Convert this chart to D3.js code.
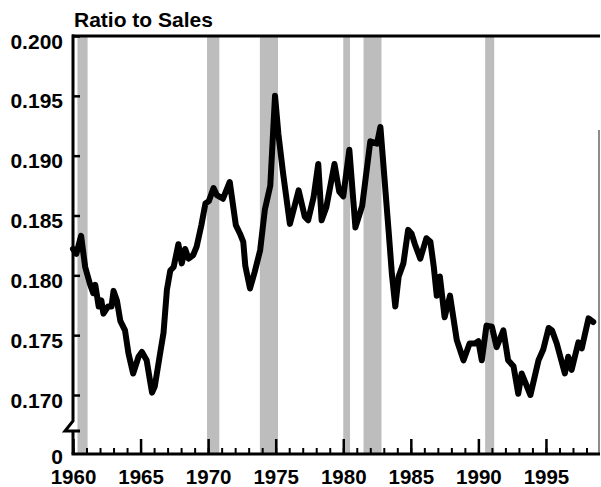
<!DOCTYPE html>
<html>
<head>
<meta charset="utf-8">
<script src="https://cdn.jsdelivr.net/npm/d3@7"></script>
<style>
  body { margin: 0; background: #fff; }
  svg text { font-family: "Liberation Sans", Arial, Helvetica, sans-serif; font-weight: bold; fill: #000; }
</style>
</head>
<body>
<svg id="graphic-svg" width="601" height="487"></svg>
<script>
// recession periods (start, end)
var recessions = [[1960.33, 1961.08], [1969.92, 1970.83], [1973.83, 1975.17],
                  [1980.0, 1980.5], [1981.5, 1982.83], [1990.5, 1991.17]];

// ratio series
var years = [1960.0, 1960.25, 1960.6, 1960.9, 1961.25, 1961.5, 1961.65, 1961.9, 1962.1, 1962.25,
  1962.6, 1962.85, 1963.0, 1963.25, 1963.5, 1963.85, 1964.1, 1964.45, 1964.85, 1965.1,
  1965.45, 1965.7, 1965.85, 1966.05, 1966.45, 1966.7, 1966.95, 1967.2, 1967.45, 1967.8,
  1968.05, 1968.3, 1968.55, 1968.9, 1969.15, 1969.5, 1969.8, 1970.05, 1970.4, 1970.65,
  1971.1, 1971.6, 1972.05, 1972.35, 1972.6, 1972.75, 1973.1, 1973.45, 1973.85, 1974.2,
  1974.6, 1974.95, 1975.2, 1975.55, 1976.05, 1976.4, 1976.7, 1977.15, 1977.4, 1977.8,
  1978.15, 1978.4, 1978.75, 1979.35, 1979.7, 1980.0, 1980.45, 1980.9, 1981.4, 1982.0,
  1982.5, 1982.75, 1983.35, 1983.6, 1983.85, 1984.1, 1984.45, 1984.8, 1985.05, 1985.3,
  1985.7, 1986.15, 1986.45, 1986.7, 1986.92, 1987.15, 1987.5, 1987.9, 1988.4, 1988.9,
  1989.35, 1989.75, 1990.0, 1990.25, 1990.6, 1991.0, 1991.35, 1991.85, 1992.2, 1992.6,
  1992.95, 1993.2, 1993.85, 1994.45, 1994.8, 1995.2, 1995.45, 1995.8, 1996.4, 1996.65,
  1996.9, 1997.4, 1997.65, 1998.15, 1998.5];
var ratio = [0.1822, 0.1818, 0.1833, 0.1807, 0.1793, 0.1785, 0.1792, 0.1774, 0.1779, 0.1768,
  0.1774, 0.1774, 0.1787, 0.1779, 0.1762, 0.1754, 0.1735, 0.1718, 0.1732, 0.1736,
  0.1729, 0.1712, 0.1702, 0.1707, 0.1735, 0.1752, 0.1788, 0.1804, 0.1807, 0.1826,
  0.1810, 0.1822, 0.1814, 0.1817, 0.1824, 0.1842, 0.1860, 0.1862, 0.1873, 0.1867,
  0.1864, 0.1878, 0.1842, 0.1835, 0.1828, 0.1808, 0.1789, 0.1803, 0.1821, 0.1855,
  0.1875, 0.1950, 0.1918, 0.1885, 0.1843, 0.1858, 0.1871, 0.1849, 0.1846, 0.1865,
  0.1893, 0.1846, 0.1857, 0.1893, 0.1870, 0.1866, 0.1905, 0.1840, 0.1858, 0.1912,
  0.1910, 0.1924, 0.1838, 0.1801, 0.1774, 0.1799, 0.1810, 0.1838, 0.1835, 0.1826,
  0.1814, 0.1831, 0.1828, 0.1807, 0.1783, 0.1799, 0.1765, 0.1783, 0.1746, 0.1729,
  0.1743, 0.1743, 0.1745, 0.1729, 0.1758, 0.1757, 0.1740, 0.1754, 0.1729, 0.1724,
  0.1701, 0.1718, 0.1700, 0.1729, 0.1738, 0.1756, 0.1754, 0.1743, 0.1718, 0.1732,
  0.1721, 0.1744, 0.1739, 0.1764, 0.1761];

var yTicks = [0.170, 0.175, 0.180, 0.185, 0.190, 0.195, 0.200];
var xMajor = [1960, 1965, 1970, 1975, 1980, 1985, 1990, 1995];
var xMinor = d3.range(1960, 1999);

var svg = d3.select("#graphic-svg");
var margin = { left: 73, top: 36, bottom: 454, right: 600 };

var x = d3.scaleLinear().domain([1960, 1999]).range([margin.left, margin.right]);
var y = d3.scaleLinear().domain([0.170, 0.200]).range([395, margin.top]);

// recession shading
svg.selectAll(".rec")
   .data(recessions)
   .enter()
   .append("rect")
   .attr("class", "rec")
   .attr("x", function(d) { return x(d[0]); })
   .attr("width", function(d) { return x(d[1]) - x(d[0]); })
   .attr("y", margin.top)
   .attr("height", margin.bottom - margin.top)
   .attr("fill", "#bdbdbd");

// frame: top border, faint right edge, y axis with break
svg.append("line")
   .attr("x1", margin.left - 1).attr("x2", margin.right)
   .attr("y1", margin.top).attr("y2", margin.top)
   .attr("stroke", "#000").attr("stroke-width", 3);
svg.append("line")
   .attr("x1", 599).attr("x2", 599).attr("y1", 130).attr("y2", margin.bottom)
   .attr("stroke", "#666").attr("stroke-width", 1.5);
svg.append("path")
   .attr("d", "M" + margin.left + "," + (margin.top - 1.5) + "V421L65,431H80M" +
              margin.left + ",431V" + margin.bottom)
   .attr("fill", "none").attr("stroke", "#000").attr("stroke-width", 3);

// y ticks
var yAxis = svg.append("g")
   .attr("transform", "translate(" + margin.left + ",0)")
   .call(d3.axisLeft(y).tickValues(yTicks).tickSize(-7).tickPadding(10)
         .tickFormat(d3.format(".3f")));
yAxis.select(".domain").remove();
yAxis.selectAll("line").attr("stroke", "#000").attr("stroke-width", 2.5);
yAxis.selectAll("text").attr("font-size", 21).attr("dy", "0.72em").attr("y", -3);

svg.append("text")
   .attr("x", 63).attr("y", 464)
   .attr("text-anchor", "end").attr("font-size", 21)
   .text("0");

// x axis
var xMinorAxis = svg.append("g")
   .attr("transform", "translate(0," + margin.bottom + ")")
   .call(d3.axisBottom(x).tickValues(xMinor).tickSize(-6).tickFormat(""));
xMinorAxis.select(".domain").remove();
xMinorAxis.selectAll("line").attr("stroke", "#000").attr("stroke-width", 2);

var xAxis = svg.append("g")
   .attr("transform", "translate(0," + margin.bottom + ")")
   .call(d3.axisBottom(x).tickValues(xMajor).tickSize(-15).tickPadding(15)
         .tickFormat(d3.format("d")));
xAxis.select(".domain").remove();
xAxis.selectAll("line").attr("stroke", "#000").attr("stroke-width", 2.5);
xAxis.selectAll("text").attr("font-size", 20.5).attr("dy", "0.71em");

svg.append("line")
   .attr("x1", margin.left - 1.5).attr("x2", margin.right)
   .attr("y1", margin.bottom).attr("y2", margin.bottom)
   .attr("stroke", "#000").attr("stroke-width", 3);

// series line
var line = d3.line()
   .x(function(d, i) { return x(years[i]); })
   .y(function(d) { return y(d); });
svg.append("path")
   .datum(ratio)
   .attr("d", line)
   .attr("fill", "none")
   .attr("stroke", "#000")
   .attr("stroke-width", 6)
   .attr("stroke-linejoin", "round")
   .attr("stroke-linecap", "round");

// title
svg.append("text")
   .attr("x", 74).attr("y", 27)
   .attr("font-size", 21)
   .text("Ratio to Sales");
</script>
</body>
</html>
